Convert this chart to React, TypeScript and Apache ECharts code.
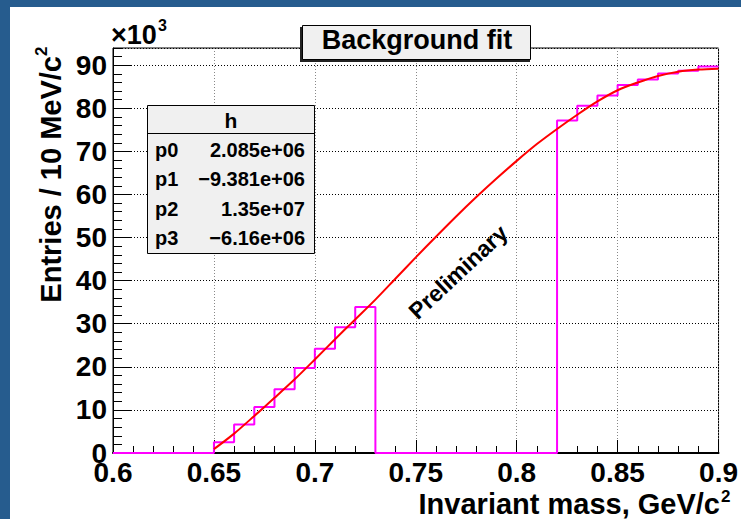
import { useEffect, useRef } from 'react';
import * as echarts from 'echarts';

// Histogram: lower bin edges (GeV/c^2) and contents (x10^3 entries per 10 MeV/c^2)
const binLow = [
  0.60, 0.61, 0.62, 0.63, 0.64, 0.65, 0.66, 0.67, 0.68, 0.69,
  0.70, 0.71, 0.72, 0.73, 0.74, 0.75, 0.76, 0.77, 0.78, 0.79,
  0.80, 0.81, 0.82, 0.83, 0.84, 0.85, 0.86, 0.87, 0.88, 0.89,
];
const binCounts = [
  0, 0, 0, 0, 0, 2.5, 6.6, 10.7, 14.8, 19.7,
  24.2, 29.2, 33.9, 0, 0, 0, 0, 0, 0, 0,
  0, 0, 77.2, 80.6, 83.0, 85.4, 86.7, 88.1, 88.7, 89.7,
];
const histUpperEdge = 0.9;

// Background fit curve (x10^3)
const fitX = [
  0.65, 0.66, 0.67, 0.68, 0.69, 0.70, 0.71, 0.72, 0.73, 0.74, 0.75, 0.76, 0.77,
  0.78, 0.79, 0.80, 0.81, 0.82, 0.83, 0.84, 0.85, 0.86, 0.87, 0.88, 0.89, 0.90,
];
const fitY = [
  0.9, 4.5, 8.6, 12.8, 17.1, 21.7, 26.4, 31.0, 35.6, 40.5, 45.4, 50.2, 54.9,
  59.4, 63.7, 67.8, 71.7, 75.2, 78.5, 81.6, 84.2, 86.0, 87.5, 88.5, 89.0, 89.2,
];

const xMin = 0.6;
const xMax = 0.9;
const xStep = 0.05;
const yMin = 0;
const yMax = 94;
const yStep = 10;
const yMinorStep = 2;

const statTitle = 'h';
const statNames = ['p0', 'p1', 'p2', 'p3'];
const statValues = ['2.085e+06', '\u22129.381e+06', '1.35e+07', '\u22126.16e+06'];

const titleText = 'Background fit';
const xTitle = 'Invariant mass, GeV/c';
const yTitle = 'Entries / 10 MeV/c';
const prelimText = 'Preliminary';

const FONT = '"Liberation Sans", Arial, Helvetica, sans-serif';
const BLUE = '#265c8e';

export default function App() {
  const ref = useRef<HTMLDivElement>(null);

  useEffect(() => {
    document.body.style.margin = '0';
    const chart = echarts.init(ref.current as HTMLDivElement, null, {
      renderer: 'svg',
      width: 741,
      height: 519,
    });

    const histData: number[][] = binLow.map((x, i) => [x, binCounts[i]]);
    histData.push([histUpperEdge, binCounts[binCounts.length - 1]]);
    const fitData = fitX.map((x, i) => [x, fitY[i]]);

    const bold = (size: number) => `bold ${size}px ${FONT}`;

    const statRowsY = [150, 179.3, 208.6, 237.9];

    const graphic: any[] = [
      // blue border strips
      { type: 'rect', z: 100, shape: { x: 0, y: 0, width: 741, height: 7 }, style: { fill: BLUE } },
      { type: 'rect', z: 100, shape: { x: 0, y: 0, width: 10, height: 519 }, style: { fill: BLUE } },
      // title box shadow + box
      { type: 'rect', z: 100, shape: { x: 300, y: 27, width: 230, height: 35 }, style: { fill: '#222' } },
      {
        type: 'rect', z: 101,
        shape: { x: 302.5, y: 25.5, width: 228, height: 34 },
        style: { fill: '#f0f0f0', stroke: '#000', lineWidth: 1 },
      },
      {
        type: 'text', z: 102, x: 417, y: 40,
        style: { text: titleText, font: bold(27), fill: '#000', textAlign: 'center', textVerticalAlign: 'middle' },
      },
      // stats box
      {
        type: 'rect', z: 100,
        shape: { x: 147.5, y: 105.5, width: 167, height: 148 },
        style: { fill: '#f0f0f0', stroke: '#000', lineWidth: 1 },
      },
      {
        type: 'line', z: 101,
        shape: { x1: 147.5, y1: 133.5, x2: 314.5, y2: 133.5 },
        style: { stroke: '#000', lineWidth: 1 },
      },
      {
        type: 'text', z: 102, x: 231, y: 120,
        style: { text: statTitle, font: bold(21), fill: '#000', textAlign: 'center', textVerticalAlign: 'middle' },
      },
      ...statNames.map((n, i) => ({
        type: 'text', z: 102, x: 155, y: statRowsY[i],
        style: { text: n, font: bold(20), fill: '#000', textAlign: 'left', textVerticalAlign: 'middle' },
      })),
      ...statValues.map((v, i) => ({
        type: 'text', z: 102, x: 305, y: statRowsY[i],
        style: { text: v, font: bold(20), fill: '#000', textAlign: 'right', textVerticalAlign: 'middle' },
      })),
      // x10^3
      {
        type: 'text', z: 102, x: 111, y: 35,
        style: { text: '\u00d710', font: bold(27), fill: '#000', textAlign: 'left', textVerticalAlign: 'middle' },
      },
      {
        type: 'text', z: 102, x: 158, y: 25,
        style: { text: '3', font: bold(16), fill: '#000', textAlign: 'left', textVerticalAlign: 'middle' },
      },
      // x axis title
      {
        type: 'text', z: 102, x: 720, y: 504,
        style: { text: xTitle, font: bold(29), fill: '#000', textAlign: 'right', textVerticalAlign: 'middle' },
      },
      {
        type: 'text', z: 102, x: 721, y: 496,
        style: { text: '2', font: bold(17), fill: '#000', textAlign: 'left', textVerticalAlign: 'middle' },
      },
      // y axis title
      {
        type: 'text', z: 102, x: 51, y: 56, rotation: Math.PI / 2,
        style: { text: yTitle, font: bold(29), fill: '#000', textAlign: 'right', textVerticalAlign: 'middle' },
      },
      {
        type: 'text', z: 102, x: 41, y: 56, rotation: Math.PI / 2,
        style: { text: '2', font: bold(17), fill: '#000', textAlign: 'left', textVerticalAlign: 'middle' },
      },
      // Preliminary
      {
        type: 'text', z: 102, x: 458, y: 272, rotation: (43 * Math.PI) / 180,
        style: { text: prelimText, font: bold(23), fill: '#000', textAlign: 'center', textVerticalAlign: 'middle' },
      },
    ];

    const option: any = {
      animation: false,
      backgroundColor: '#ffffff',
      grid: {
        left: 113, right: 20, top: 48, bottom: 66,
        show: true, borderColor: '#000', borderWidth: 1, backgroundColor: 'transparent',
      },
      xAxis: {
        type: 'value', min: xMin, max: xMax, interval: xStep,
        axisLine: { show: true, onZero: false, lineStyle: { color: '#000', width: 2 } },
        axisTick: { show: true, inside: true, length: 13, lineStyle: { color: '#000', width: 1 } },
        minorTick: { show: true, splitNumber: 5, length: 7, lineStyle: { color: '#000', width: 1 } },
        splitLine: { show: true, lineStyle: { color: '#888', type: [1, 2], width: 1 } },
        axisLabel: {
          color: '#000', fontSize: 28, fontWeight: 'bold', fontFamily: FONT, margin: 5,
          showMinLabel: true, showMaxLabel: true,
        },
      },
      yAxis: [
        {
          type: 'value', min: yMin, max: yMax, interval: yStep,
          axisLine: { show: true, onZero: false, lineStyle: { color: '#000', width: 1 } },
          axisTick: { show: true, inside: true, length: 18, lineStyle: { color: '#000', width: 1 } },
          splitLine: { show: true, lineStyle: { color: '#000', type: [1, 2], width: 1 } },
          axisLabel: {
            color: '#000', fontSize: 28, fontWeight: 'bold', fontFamily: FONT, margin: 6,
            showMaxLabel: false,
            formatter: (v: number) => (v % yStep === 0 ? String(v) : ''),
          },
        },
        {
          type: 'value', min: yMin, max: yMax, interval: yMinorStep, position: 'left',
          axisLine: { show: false },
          axisTick: { show: true, inside: true, length: 9, lineStyle: { color: '#000', width: 1 } },
          splitLine: { show: false },
          axisLabel: { show: false },
        },
      ],
      series: [
        {
          name: 'h', type: 'line', step: 'end', data: histData, yAxisIndex: 0,
          symbol: 'none', clip: false, z: 3,
          lineStyle: { color: '#ff00ff', width: 2 },
        },
        {
          name: 'fit', type: 'line', data: fitData, yAxisIndex: 0, smooth: 0.3,
          symbol: 'none', z: 4,
          lineStyle: { color: '#ff0000', width: 2 },
        },
      ],
      graphic,
    };

    chart.setOption(option);
    return () => chart.dispose();
  }, []);

  return (
    <div
      ref={ref}
      style={{ position: 'absolute', left: 0, top: 0, width: 741, height: 519 }}
    />
  );
}
